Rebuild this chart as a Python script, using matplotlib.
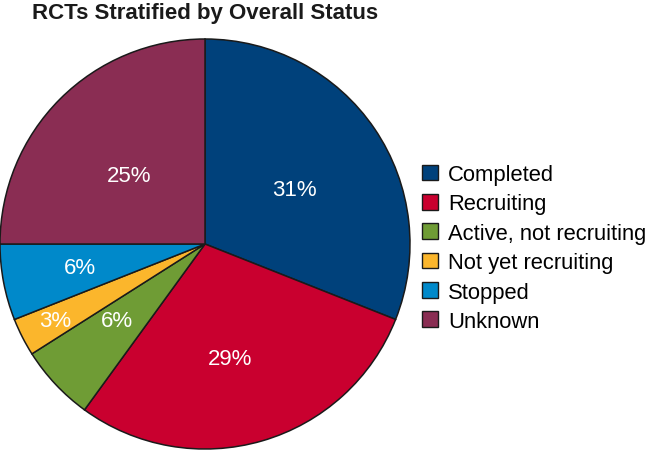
import matplotlib
matplotlib.use("Agg")
import matplotlib.pyplot as plt
from matplotlib.patches import Patch
import numpy as np

categories = ["Completed", "Recruiting", "Active, not recruiting", "Not yet recruiting", "Stopped", "Unknown"]
values = [31, 29, 6, 3, 6, 25]
colors = ["#00417b", "#c9002f", "#6f9c35", "#fbb62c", "#0089ca", "#8a2d53"]
label_r = [0.51, 0.57, 0.57, 0.82, 0.62, 0.50]
label_da = [-3, -4, -2, 0, 0, 3]

plt.rcParams['font.family'] = ['Liberation Sans', 'DejaVu Sans']
fig = plt.figure(figsize=(6.47, 4.52), dpi=100)
ax = fig.add_axes([0.0, 2/452, 410/647, 410/452])
wedges, _ = ax.pie(values, colors=colors, startangle=90, counterclock=False,
                   wedgeprops=dict(edgecolor="#1a1a1a", linewidth=1.1))
ax.set_aspect('equal')
ax.set_xlim(-1.0, 1.0)
ax.set_ylim(-1.0, 1.0)

for w, v, r, da in zip(wedges, values, label_r, label_da):
    ang = np.deg2rad((w.theta1 + w.theta2) / 2 + da)
    ax.text(r * np.cos(ang), r * np.sin(ang), f"{v}%", ha='center', va='center',
            color='white', fontsize=16)

handles = [Patch(facecolor=c, edgecolor="#1a1a1a", linewidth=1.0) for c in colors]
fig.legend(handles, categories, loc='center left', bbox_to_anchor=(422/647, 1 - 249/452),
           frameon=False, fontsize=15.8, handlelength=0.73, handleheight=0.73,
           handletextpad=0.45, labelspacing=0.38, borderaxespad=0, borderpad=0)

fig.text(205/647, 1 - 13/452, "RCTs Stratified by Overall Status", ha='center', va='center',
         fontsize=16, fontweight='bold', color='#1a1a1a')

fig.savefig("out.png", dpi=100)
